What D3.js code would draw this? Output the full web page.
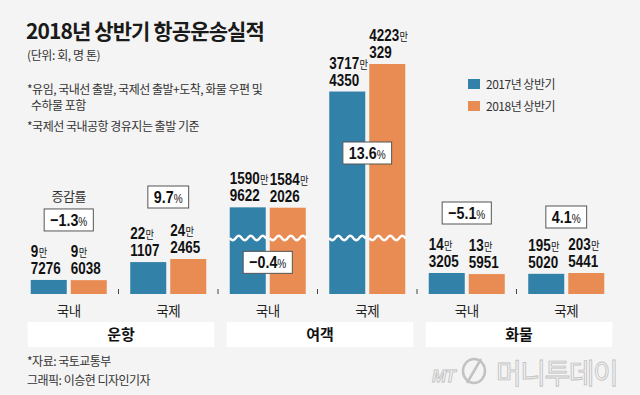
<!DOCTYPE html>
<html>
<head>
<meta charset="utf-8">
<script src="https://cdn.jsdelivr.net/npm/d3@7"></script>
<style>
body { margin: 0; background: #f4f4f4; }
svg { display: block; }
text { font-family: "Noto Sans CJK KR", sans-serif; fill: #333; }
.num { font-family: "Liberation Sans", Arial, sans-serif; font-weight: bold; fill: #111; }
</style>
</head>
<body>
<svg id="chart"></svg>
<script>
// 2018 상반기 항공운송실적 (운항: 회, 여객: 명, 화물: 톤)
const sections = ['운항', '여객', '화물'];
const routes = ['국내', '국제'];
const years = ['2017년 상반기', '2018년 상반기'];
const h2017 = [97276, 221107, 15909622, 37174350, 143205, 1955020];
const h2018 = [96038, 242465, 15842026, 42230329, 135951, 2035441];
const notes = ['*유임, 국내선 출발, 국제선 출발+도착, 화물 우편 및', '수하물 포함', '*국제선 국내공항 경유지는 출발 기준'];

const width = 640, height = 395;
const base = 294;
const colors = ['#3281a9', '#e98c53'];
const narrow = 0.84; // the numbers in the original are condensed
// tallest bar in each section (px); 화물 is drawn per pair, not to one scale
const maxH = { '운항': 35, '여객': 230, '화물': 21 };
// where the % box sits, from the top of the taller bar
const boxDy = [-60, -62, 55, 89, -60, -56];

const svg = d3.select('#chart').attr('width', width).attr('height', height);
svg.append('rect').attr('width', width).attr('height', height).attr('fill', '#f4f4f4');

const keys = [];
sections.forEach(s => routes.forEach(r => keys.push(s + '-' + r)));
const data = keys.map((k, i) => ({ key: k, section: k.split('-')[0], route: k.split('-')[1], v: [h2017[i], h2018[i]] }));

const x = d3.scaleBand().domain(keys).range([19, 616]).paddingInner(0.236).paddingOuter(0.118);
const xs = d3.scaleBand().domain(years).range([0, x.bandwidth()]).paddingInner(0.1);

function hScale(d) {
  let dom;
  if (d.section === '화물') dom = d3.max(d.v);
  else dom = d3.max(data.filter(e => e.section === d.section), e => d3.max(e.v));
  return d3.scaleLinear().domain([0, dom]).range([0, maxH[d.section]]);
}

// title + notes
svg.append('text').attr('x', 26).attr('y', 39).attr('font-size', 21).attr('font-weight', 'bold')
  .attr('letter-spacing', -0.9).style('fill', '#1a1a1a').text('2018년 상반기 항공운송실적');
svg.append('text').attr('x', 27).attr('y', 60).attr('font-size', 12).attr('letter-spacing', -0.4).text('(단위: 회, 명 톤)');
svg.append('text').attr('x', 27).attr('y', 94).attr('font-size', 12).attr('letter-spacing', -0.5).text(notes[0]);
svg.append('text').attr('x', 31).attr('y', 110).attr('font-size', 12).attr('letter-spacing', -0.5).text(notes[1]);
svg.append('text').attr('x', 27).attr('y', 131).attr('font-size', 12).attr('letter-spacing', -0.5).text(notes[2]);

// legend
const lg = svg.append('g').selectAll('g').data(years).join('g')
  .attr('transform', (d, i) => `translate(468,${79 + i * 22})`);
lg.append('rect').attr('width', 12).attr('height', 10).attr('fill', (d, i) => colors[i]);
lg.append('text').attr('x', 18).attr('y', 10).attr('font-size', 12).attr('letter-spacing', -0.5).text(d => d);

// bars
const g = svg.append('g').selectAll('g').data(data).join('g')
  .attr('transform', d => `translate(${x(d.key)},0)`);

g.each(function(d) {
  const y = hScale(d);
  const grp = d3.select(this);
  d.v.forEach((v, j) => {
    const bx = xs(years[j]);
    const top = base - y(v);
    grp.append('rect').attr('x', bx).attr('y', top).attr('width', xs.bandwidth())
      .attr('height', y(v)).attr('fill', colors[j]);
    const man = Math.floor(v / 10000), rest = v % 10000;
    const t1 = grp.append('text').attr('class', 'num').attr('font-size', 16)
      .attr('transform', `translate(${bx},${top - 23}) scale(${narrow},1)`);
    t1.append('tspan').text(man);
    t1.append('tspan').attr('font-size', 11).attr('font-weight', 'normal').attr('dx', 0.5)
      .style('font-family', '"Noto Sans CJK KR", sans-serif').text('만');
    grp.append('text').attr('class', 'num').attr('font-size', 16)
      .attr('transform', `translate(${bx},${top - 6}) scale(${narrow},1)`).text(rest);
    if (d.section === '여객') {
      const pts = d3.range(0, xs.bandwidth() + 0.5, 0.5).map(t => [bx + t, 238 + 2.2 * Math.sin(t / 12 * 2 * Math.PI)]);
      grp.append('path').attr('d', d3.line()(pts)).attr('fill', 'none')
        .attr('stroke', '#fff').attr('stroke-width', 2.4);
    }
  });
});

// change boxes
const fmt = d3.format('.1f');
g.each(function(d, i) {
  const y = hScale(d);
  const grp = d3.select(this);
  const cy = base - y(d3.max(d.v)) + boxDy[i];
  const cx = x.bandwidth() / 2;
  const bg = grp.append('rect');
  const t = grp.append('text').attr('text-anchor', 'middle')
    .attr('transform', `translate(${cx},${cy + 6}) scale(${narrow},1)`)
    .attr('class', 'num').attr('font-size', 17);
  t.append('tspan').text(fmt((d.v[1] - d.v[0]) / d.v[0] * 100));
  t.append('tspan').attr('font-size', 12).attr('font-weight', 'normal').text('%');
  const w = t.node().getComputedTextLength() * narrow + 12;
  bg.attr('x', cx - w / 2).attr('y', cy - 11).attr('width', w).attr('height', 22)
    .attr('fill', '#fff').attr('stroke', '#555').attr('stroke-width', 1);
  if (i === 0) {
    grp.append('text').attr('x', cx).attr('y', cy - 19).attr('text-anchor', 'middle')
      .attr('font-size', 13).attr('letter-spacing', -0.5).text('증감률');
  }
});

// small ticks between groups
svg.append('g').selectAll('line').data(keys.slice(0, -1)).join('line')
  .attr('x1', d => x(d) + x.bandwidth() + (x.step() - x.bandwidth()) / 2)
  .attr('x2', d => x(d) + x.bandwidth() + (x.step() - x.bandwidth()) / 2)
  .attr('y1', 289).attr('y2', 294).attr('stroke', '#444').attr('stroke-width', 1);

// route labels
svg.append('g').selectAll('text').data(data).join('text')
  .attr('x', d => x(d.key) + x.bandwidth() / 2).attr('y', 316)
  .attr('text-anchor', 'middle').attr('font-size', 13.5).attr('letter-spacing', -0.5)
  .style('fill', '#222').text(d => d.route);

// section boxes
const sb = svg.append('g').selectAll('g').data(sections).join('g');
sb.append('rect')
  .attr('x', s => x(s + '-' + routes[0]) - 3)
  .attr('y', 322)
  .attr('width', s => x(s + '-' + routes[1]) + x.bandwidth() + 8 - x(s + '-' + routes[0]) + 3)
  .attr('height', 25).attr('fill', '#fff');
sb.append('text')
  .attr('x', s => (x(s + '-' + routes[0]) - 3 + x(s + '-' + routes[1]) + x.bandwidth() + 8) / 2)
  .attr('y', 340).attr('text-anchor', 'middle').attr('font-size', 15).attr('font-weight', 'bold')
  .style('fill', '#111').text(s => s);

// source
svg.append('text').attr('x', 27).attr('y', 366).attr('font-size', 12).attr('letter-spacing', -0.5).text('*자료: 국토교통부');
svg.append('text').attr('x', 27).attr('y', 385).attr('font-size', 12).attr('letter-spacing', -0.5).text('그래픽: 이승현 디자인기자');

// logo
const logo = svg.append('g').attr('fill', '#f7f7f7').attr('stroke', '#c2c2c2').attr('stroke-width', 0.9);
logo.append('text').attr('x', 432).attr('y', 382).attr('font-size', 17).attr('font-style', 'italic')
  .attr('font-weight', 'bold').style('font-family', '"Liberation Sans", sans-serif')
  .style('fill', '#f7f7f7').attr('letter-spacing', -1).text('MT');
logo.append('ellipse').attr('cx', 474).attr('cy', 371).attr('rx', 11).attr('ry', 12).attr('fill', 'none').attr('stroke-width', 2.5);
logo.append('line').attr('x1', 467).attr('y1', 383).attr('x2', 481).attr('y2', 359).attr('stroke-width', 2.5);
logo.append('text').attr('x', 496).attr('y', 384).attr('font-size', 28).attr('letter-spacing', -1.5)
  .style('fill', '#f7f7f7').text('머니투데이');
</script>
</body>
</html>
